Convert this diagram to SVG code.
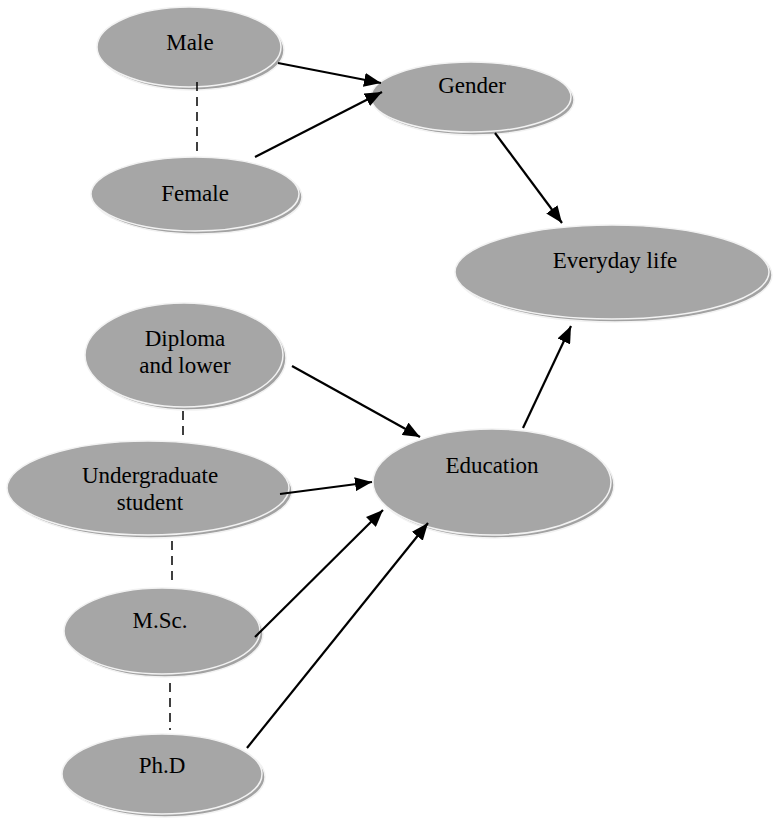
<svg xmlns="http://www.w3.org/2000/svg" width="774" height="820" viewBox="0 0 774 820">
<defs>
<marker id="ah" markerUnits="userSpaceOnUse" markerWidth="18" markerHeight="14" refX="17" refY="7" orient="auto">
<path d="M0,0 L17,7 L0,14 z" fill="#000"/>
</marker>
</defs>
<style>
.sh{fill:#a2a2a2;stroke:#f2f2f2;stroke-width:1.5}
.el{fill:#a6a6a6;stroke:#f2f2f2;stroke-width:1.5}
.t{font-family:"Liberation Serif","Times New Roman",serif;font-size:23px;fill:#000;text-anchor:middle}
.a{stroke:#000;stroke-width:2.2;fill:none;marker-end:url(#ah)}
.d{stroke:#000;stroke-width:1.5;fill:none;stroke-dasharray:9,6}
</style>
<rect width="774" height="820" fill="#fff"/>
<g id="male"><ellipse class="sh" cx="192" cy="50" rx="92" ry="40"/><ellipse class="el" cx="189" cy="47" rx="92" ry="40"/><text class="t" x="190" y="50">Male</text></g>
<g id="female"><ellipse class="sh" cx="198" cy="197" rx="104" ry="37"/><ellipse class="el" cx="195" cy="194" rx="104" ry="37"/><text class="t" x="195" y="201">Female</text></g>
<g id="gender"><ellipse class="sh" cx="474" cy="100" rx="100" ry="35"/><ellipse class="el" cx="471" cy="97" rx="100" ry="35"/><text class="t" x="472" y="93">Gender</text></g>
<g id="everyday"><ellipse class="sh" cx="615" cy="275" rx="157" ry="47"/><ellipse class="el" cx="612" cy="272" rx="157" ry="47"/><text class="t" x="615" y="268">Everyday life</text></g>
<g id="diploma"><ellipse class="sh" cx="187" cy="358" rx="99" ry="52"/><ellipse class="el" cx="184" cy="355" rx="99" ry="52"/><text class="t" x="185" y="346">Diploma</text><text class="t" x="185" y="373">and lower</text></g>
<g id="undergrad"><ellipse class="sh" cx="151" cy="491" rx="141" ry="47"/><ellipse class="el" cx="148" cy="488" rx="141" ry="47"/><text class="t" x="150" y="483">Undergraduate</text><text class="t" x="150" y="510">student</text></g>
<g id="education"><ellipse class="sh" cx="495" cy="485" rx="119" ry="53"/><ellipse class="el" cx="492" cy="482" rx="119" ry="53"/><text class="t" x="492" y="473">Education</text></g>
<g id="msc"><ellipse class="sh" cx="165" cy="634" rx="98" ry="43"/><ellipse class="el" cx="162" cy="631" rx="98" ry="43"/><text class="t" x="160" y="628">M.Sc.</text></g>
<g id="phd"><ellipse class="sh" cx="165" cy="777" rx="100" ry="40"/><ellipse class="el" cx="162" cy="774" rx="100" ry="40"/><text class="t" x="162" y="773">Ph.D</text></g>
<g id="connectors">
<line class="d" x1="197" y1="82" x2="197" y2="157"/>
<line class="d" x1="183" y1="411" x2="183" y2="438"/>
<line class="d" x1="172" y1="541" x2="172" y2="584"/>
<line class="d" x1="170" y1="683" x2="170" y2="730"/>
<line class="a" x1="278" y1="63" x2="381" y2="83"/>
<line class="a" x1="255" y1="157" x2="382" y2="92"/>
<line class="a" x1="495" y1="133" x2="562" y2="223"/>
<line class="a" x1="292" y1="366" x2="420" y2="437"/>
<line class="a" x1="280" y1="494" x2="372" y2="482"/>
<line class="a" x1="255" y1="637" x2="383" y2="510"/>
<line class="a" x1="247" y1="748" x2="428" y2="523"/>
<line class="a" x1="523" y1="428" x2="571" y2="326"/>
</g>
</svg>
